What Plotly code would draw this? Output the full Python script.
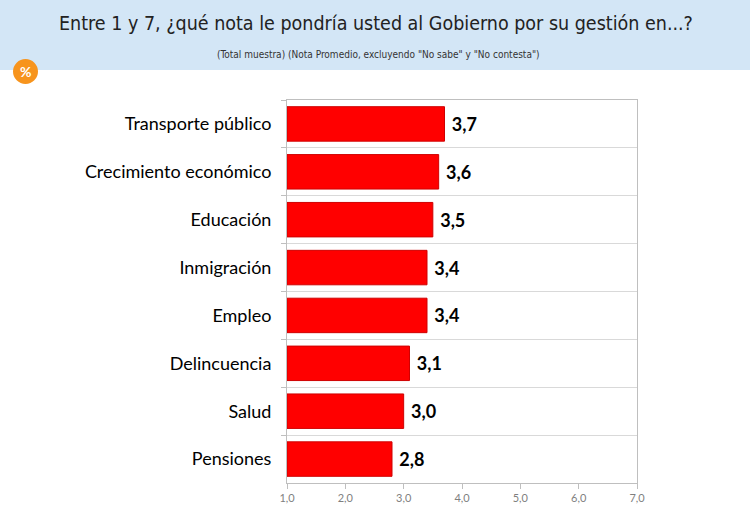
import plotly.graph_objects as go

categorias = ['Transporte público', 'Crecimiento económico', 'Educación', 'Inmigración',
              'Empleo', 'Delincuencia', 'Salud', 'Pensiones']
notas = [3.7, 3.6, 3.5, 3.4, 3.4, 3.1, 3.0, 2.8]
ticks_x = [1, 2, 3, 4, 5, 6, 7]

etiquetas = ['\u00a0' + f'{v:.1f}'.replace('.', ',') for v in notas]

# medidas del área de trazado en píxeles
L, T, W, H = 287, 100, 350, 383


def px(x):
    return (x - L) / W


def py(y):
    return (T + H - y) / H


fig = go.Figure(go.Bar(
    y=categorias,
    x=[v - 1 for v in notas],
    base=1,
    orientation='h',
    width=0.72,
    marker=dict(color='#ff0000', line=dict(color='#d00000', width=1)),
    text=etiquetas,
    textposition='outside',
    textfont=dict(family='Lato', size=18, color='black', weight='bold'),
    cliponaxis=False,
    hoverinfo='skip',
))

fig.update_layout(
    width=750, height=532,
    margin=dict(l=L, r=750 - L - W, t=T, b=532 - T - H),
    paper_bgcolor='white',
    plot_bgcolor='white',
    showlegend=False,
    font=dict(family='Lato', color='#1a1a1a'),
)

# franja azul de cabecera y círculo naranja
fig.add_shape(type='rect', xref='paper', yref='paper',
              x0=px(0), x1=px(750), y0=py(70), y1=py(0),
              line_width=0, fillcolor='#d3e6f6', layer='below')
fig.add_shape(type='circle', xref='paper', yref='paper',
              x0=px(13), x1=px(38), y0=py(84), y1=py(59),
              line_width=0, fillcolor='#f7941d', layer='above')

fig.add_annotation(text='%', xref='paper', yref='paper', x=px(25.5), y=py(71.5),
                   xanchor='center', yanchor='middle',
                   showarrow=False, font=dict(family='Lato', size=14, color='white', weight='bold'))
fig.add_annotation(text='Entre 1 y 7, ¿qué nota le pondría usted al Gobierno por su gestión en...?',
                   xref='paper', yref='paper', x=px(376), y=py(23),
                   xanchor='center', yanchor='middle',
                   showarrow=False, font=dict(family='DejaVu Sans Condensed, Open Sans', size=19.5, color='#222222'))
fig.add_annotation(text='(Total muestra) (Nota Promedio, excluyendo "No sabe" y "No contesta")',
                   xref='paper', yref='paper', x=px(378), y=py(55),
                   xanchor='center', yanchor='middle',
                   showarrow=False, font=dict(family='DejaVu Sans Condensed, Open Sans', size=10, color='#333333'))

fig.update_xaxes(
    range=[1, 7], tickvals=ticks_x,
    ticktext=[f'{t:.1f}'.replace('.', ',') for t in ticks_x],
    showgrid=False, zeroline=False,
    showline=True, linecolor='#bfbfbf', linewidth=1, mirror=True,
    ticks='outside', ticklen=5, tickcolor='#bfbfbf',
    tickfont=dict(family='Lato', size=11, color='#7f7f7f'),
)
fig.update_yaxes(
    autorange='reversed', tickson='boundaries',
    showgrid=True, gridcolor='#d9d9d9', gridwidth=1,
    showline=True, linecolor='#bfbfbf', linewidth=1, mirror=True,
    ticks='outside', ticklen=5, tickcolor='#bfbfbf',
    tickfont=dict(family='Lato', size=18, color='black'),
    ticklabelstandoff=11,
)

fig.write_html('out.html', config={'displayModeBar': False},
               post_script="document.body.style.margin='0';")
